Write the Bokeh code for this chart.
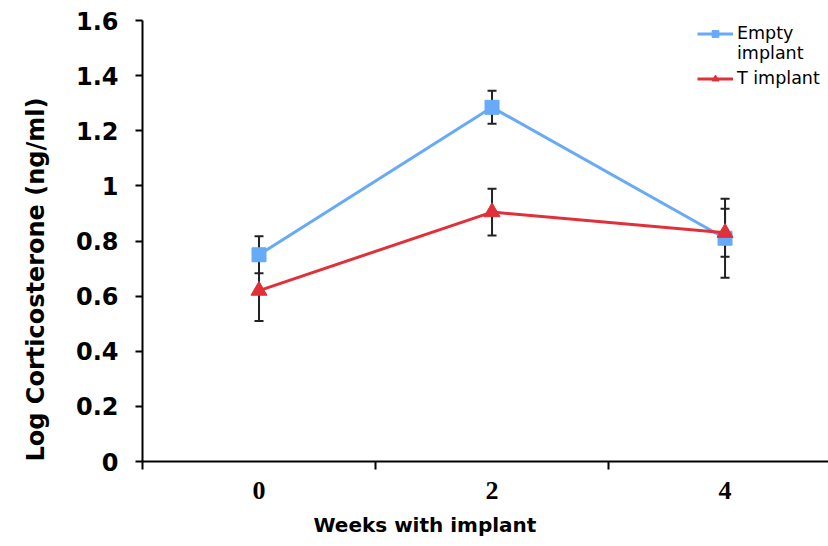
import numpy as np
from bokeh.plotting import figure
from bokeh.models import (ColumnDataSource, Range1d, FixedTicker, Whisker, TeeHead,
                          Title, Legend, LegendItem)
from bokeh.embed import file_html
from bokeh.resources import INLINE

# Weeks with implant and log corticosterone (ng/ml), mean and SE
weeks = ["0", "2", "4"]
empty_mean = [0.75, 1.285, 0.81]
empty_err = [0.067, 0.06, 0.143]
t_mean = [0.62, 0.905, 0.83]
t_err = [0.11, 0.085, 0.087]
y_ticks = [0, 0.2, 0.4, 0.6, 0.8, 1.0, 1.2, 1.4, 1.6]

BLUE = "#66aaf8"
RED = "#e0303a"

xpos = np.arange(len(weeks)) + 0.5

empty_src = ColumnDataSource(dict(
    x=xpos, y=empty_mean,
    upper=np.array(empty_mean) + np.array(empty_err),
    lower=np.array(empty_mean) - np.array(empty_err)))
t_src = ColumnDataSource(dict(
    x=xpos, y=t_mean,
    upper=np.array(t_mean) + np.array(t_err),
    lower=np.array(t_mean) - np.array(t_err)))

p = figure(width=828, height=546, output_backend="svg", toolbar_location=None,
           x_range=Range1d(0, 2.944), y_range=Range1d(0, 1.6),
           min_border_left=142, min_border_right=0, min_border_top=20,
           min_border_bottom=84)
p.outline_line_color = None
p.xgrid.visible = False
p.ygrid.visible = False
p.background_fill_color = "white"
p.border_fill_color = "white"

# error bars below the lines and markers
for src in (empty_src, t_src):
    w = Whisker(source=src, base="x", upper="upper", lower="lower",
                dimension="height", line_color="#222222", line_width=2,
                upper_head=TeeHead(size=9, line_color="#222222", line_width=2),
                lower_head=TeeHead(size=9, line_color="#222222", line_width=2))
    p.add_layout(w)

e_line = p.line("x", "y", source=empty_src, line_color=BLUE, line_width=3)
e_mark = p.scatter("x", "y", source=empty_src, marker="square", size=14,
                   fill_color=BLUE, line_color=BLUE)
t_line = p.line("x", "y", source=t_src, line_color=RED, line_width=3)
t_mark = p.scatter("x", "y", source=t_src, marker="triangle", size=16,
                   fill_color=RED, line_color=RED)
# invisible placeholder so the second line of a legend label has no key
blank = p.line(x=[], y=[], line_alpha=0)

# x axis: category labels centred, ticks on category boundaries
xa = p.xaxis[0]
xa.ticker = FixedTicker(ticks=list(xpos), minor_ticks=[0, 1, 2])
xa.major_label_overrides = {float(x): w for x, w in zip(xpos, weeks)}
xa.major_tick_out = 0
xa.major_tick_in = 0
xa.minor_tick_out = 8
xa.minor_tick_in = 0
xa.minor_tick_line_width = 2
xa.minor_tick_line_color = "black"
xa.axis_line_width = 2
xa.axis_line_color = "black"
xa.major_label_text_font = "Liberation Serif"
xa.major_label_text_font_style = "bold"
xa.major_label_text_font_size = "26px"
xa.major_label_text_color = "black"
xa.major_label_standoff = 12

ya = p.yaxis[0]
ya.ticker = FixedTicker(ticks=y_ticks, minor_ticks=[])
ya.major_label_overrides = {1.0: "1", 0: "0"}
ya.major_tick_out = 7
ya.major_tick_in = 0
ya.major_tick_line_width = 2
ya.major_tick_line_color = "black"
ya.axis_line_width = 2
ya.axis_line_color = "black"
ya.major_label_text_font = "DejaVu Sans"
ya.major_label_text_font_style = "bold"
ya.major_label_text_font_size = "24px"
ya.major_label_text_color = "black"
ya.major_label_standoff = 17

# axis titles, placed as side-panel titles so they can sit off-centre
p.add_layout(Title(text="Log Corticosterone (ng/ml)", align="left", offset=0,
                   vertical_align="top",
                   text_font="DejaVu Sans", text_font_style="bold",
                   text_font_size="24px", text_color="black", standoff=41),
             "left")
p.add_layout(Title(text="Weeks with implant", align="left", offset=171,
                   vertical_align="bottom",
                   text_font="DejaVu Sans", text_font_style="bold",
                   text_font_size="20px", text_color="black", standoff=19),
             "below")

legend_style = dict(padding=0, margin=0, spacing=0, glyph_width=36,
                    glyph_height=17, label_standoff=4, label_height=17,
                    label_text_font="DejaVu Sans", label_text_font_size="17.5px",
                    label_text_color="black", background_fill_alpha=0,
                    border_line_alpha=0)
legend_empty = Legend(items=[
    LegendItem(label="Empty", renderers=[e_line, e_mark]),
    LegendItem(label="implant", renderers=[blank]),
], location=(555, 398), **legend_style)
legend_t = Legend(items=[
    LegendItem(label="T implant", renderers=[t_line, t_mark]),
], location=(555, 373), **legend_style)
p.add_layout(legend_empty)
p.add_layout(legend_t)

open("out.html", "w").write(file_html(p, INLINE))
